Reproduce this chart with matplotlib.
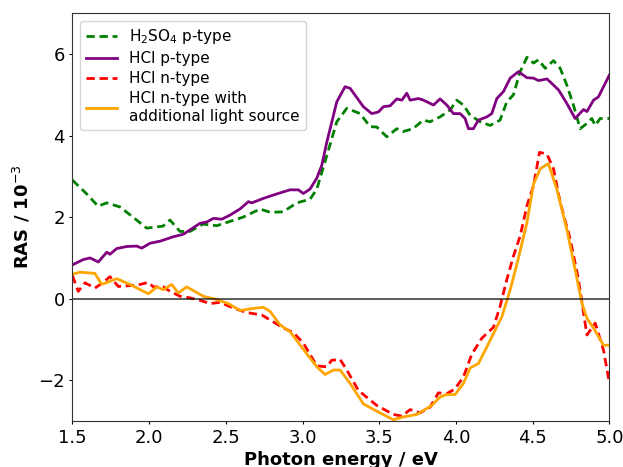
import numpy as np
import matplotlib.pyplot as plt

# RAS spectra, photon energy in eV, RAS in units of 1e-3
e_h2so4_p = [1.5, 1.593, 1.667, 1.724, 1.810, 1.895, 1.984, 2.091, 2.136, 2.201, 2.267,
             2.351, 2.441, 2.506, 2.612, 2.723, 2.788, 2.873, 2.962, 3.049, 3.093, 3.158,
             3.223, 3.288, 3.375, 3.440, 3.484, 3.549, 3.614, 3.655, 3.720, 3.786, 3.831,
             3.896, 3.962, 4.005, 4.048, 4.092, 4.157, 4.222, 4.287, 4.331, 4.374, 4.418,
             4.462, 4.505, 4.537, 4.581, 4.635, 4.679, 4.722, 4.765, 4.809, 4.853, 4.885,
             4.907, 4.939, 5.0]
ras_h2so4_p = [2.91, 2.57, 2.27, 2.35, 2.25, 2.0, 1.73, 1.78, 1.93, 1.65, 1.65,
               1.83, 1.79, 1.87, 2.0, 2.2, 2.12, 2.13, 2.35, 2.44, 2.69, 3.51,
               4.34, 4.67, 4.54, 4.22, 4.21, 3.97, 4.17, 4.10, 4.17, 4.38, 4.34,
               4.46, 4.63, 4.87, 4.75, 4.5, 4.34, 4.25, 4.38, 4.83, 5.0, 5.57,
               5.92, 5.78, 5.86, 5.65, 5.84, 5.65, 5.24, 4.75, 4.17, 4.30, 4.42,
               4.25, 4.42, 4.42]

e_hcl_p = [1.5, 1.571, 1.615, 1.669, 1.724, 1.745, 1.789, 1.854, 1.919, 1.952, 2.006,
           2.071, 2.158, 2.223, 2.267, 2.332, 2.375, 2.419, 2.473, 2.527, 2.592, 2.647,
           2.669, 2.744, 2.832, 2.918, 2.973, 3.005, 3.049, 3.093, 3.125, 3.158, 3.223,
           3.277, 3.310, 3.396, 3.451, 3.494, 3.527, 3.570, 3.614, 3.647, 3.679, 3.701,
           3.755, 3.788, 3.853, 3.896, 3.940, 3.983, 4.027, 4.059, 4.081, 4.113, 4.146,
           4.201, 4.233, 4.266, 4.309, 4.353, 4.407, 4.462, 4.505, 4.537, 4.592, 4.613,
           4.668, 4.722, 4.776, 4.831, 4.853, 4.896, 4.928, 5.0]
ras_hcl_p = [0.83, 0.96, 1.0, 0.9, 1.14, 1.09, 1.23, 1.28, 1.29, 1.24, 1.36,
             1.41, 1.52, 1.58, 1.69, 1.85, 1.88, 1.97, 1.95, 2.05, 2.2, 2.38,
             2.35, 2.46, 2.57, 2.67, 2.67, 2.58, 2.69, 2.96, 3.27, 3.84, 4.83,
             5.2, 5.16, 4.71, 4.54, 4.58, 4.71, 4.73, 4.9, 4.87, 5.04, 4.87,
             4.91, 4.87, 4.75, 4.90, 4.75, 4.54, 4.54, 4.42, 4.17, 4.17, 4.38,
             4.46, 4.54, 4.91, 5.08, 5.41, 5.57, 5.42, 5.41, 5.35, 5.39, 5.32,
             5.12, 4.79, 4.42, 4.64, 4.59, 4.87, 4.95, 5.49]

e_hcl_n = [1.5, 1.538, 1.582, 1.647, 1.701, 1.745, 1.799, 1.875, 1.941, 1.995, 2.027,
           2.093, 2.136, 2.201, 2.267, 2.332, 2.397, 2.462, 2.549, 2.636, 2.734, 2.788,
           2.875, 2.940, 3.005, 3.093, 3.158, 3.190, 3.245, 3.288, 3.364, 3.484, 3.592,
           3.647, 3.701, 3.766, 3.831, 3.885, 3.940, 3.994, 4.048, 4.103, 4.168, 4.244,
           4.287, 4.331, 4.374, 4.418, 4.462, 4.505, 4.544, 4.592, 4.635, 4.679, 4.744,
           4.798, 4.853, 4.907, 4.961, 5.0]
ras_hcl_n = [0.57, 0.18, 0.39, 0.26, 0.40, 0.54, 0.30, 0.32, 0.35, 0.40, 0.29,
             0.29, 0.18, 0.06, 0.02, -0.04, -0.12, -0.09, -0.23, -0.34, -0.40, -0.52,
             -0.72, -0.83, -1.09, -1.65, -1.67, -1.51, -1.49, -1.75, -2.25, -2.62, -2.84,
             -2.88, -2.72, -2.80, -2.66, -2.31, -2.33, -2.21, -1.92, -1.36, -0.97, -0.70,
             -0.19, 0.47, 1.04, 1.54, 2.28, 2.77, 3.59, 3.55, 3.19, 2.36, 1.46,
             0.47, -0.89, -0.60, -1.26, -2.08]

e_hcl_n_light = [1.5, 1.55, 1.647, 1.691, 1.789, 1.875, 1.995, 2.050, 2.093, 2.147, 2.190,
                 2.245, 2.353, 2.441, 2.516, 2.593, 2.658, 2.744, 2.788, 2.853, 2.918, 3.005,
                 3.093, 3.147, 3.201, 3.245, 3.310, 3.396, 3.484, 3.592, 3.657, 3.744, 3.842,
                 3.896, 3.940, 3.994, 4.048, 4.092, 4.146, 4.201, 4.299, 4.353, 4.407, 4.462,
                 4.505, 4.549, 4.602, 4.657, 4.722, 4.776, 4.820, 4.853, 4.896, 4.961, 5.0]
ras_hcl_n_light = [0.6, 0.65, 0.62, 0.35, 0.49, 0.35, 0.12, 0.29, 0.22, 0.35, 0.14,
                   0.29, 0.06, -0.02, -0.12, -0.29, -0.25, -0.21, -0.31, -0.64, -0.81, -1.24,
                   -1.67, -1.86, -1.75, -1.75, -2.08, -2.58, -2.76, -2.97, -2.90, -2.84, -2.62,
                   -2.41, -2.35, -2.35, -2.08, -1.70, -1.59, -1.18, -0.44, 0.22, 1.0, 1.87,
                   2.81, 3.19, 3.31, 2.69, 1.70, 0.72, -0.11, -0.48, -0.72, -1.14, -1.14]

fig = plt.figure(figsize=(6.23, 4.67), dpi=100)
ax = fig.add_axes([0.1162, 0.0985, 0.8621, 0.873])

dash = (3.0, 1.7)
ax.plot(e_h2so4_p, ras_h2so4_p, '--', dashes=dash, color='green', lw=2,
        label='H$_2$SO$_4$ p-type')
ax.plot(e_hcl_p, ras_hcl_p, '-', color='purple', lw=2, label='HCl p-type')
ax.plot(e_hcl_n, ras_hcl_n, '--', dashes=dash, color='red', lw=2, label='HCl n-type')
ax.plot(e_hcl_n_light, ras_hcl_n_light, '-', color='orange', lw=2,
        label='HCl n-type with\nadditional light source')
ax.axhline(0, color='k', lw=1.2, alpha=0.75)

ax.set_xlim(1.5, 5.0)
ax.set_ylim(-3, 7)
ax.set_xticks(np.arange(1.5, 5.01, 0.5))
ax.set_yticks([-2, 0, 2, 4, 6])
ax.tick_params(labelsize=13, length=2.5, pad=3)
for s in ax.spines.values():
    s.set_color('#333333')
ax.set_xlabel('Photon energy / eV', fontsize=13, fontweight='bold', labelpad=3)
ax.set_ylabel('RAS / 10$^{-3}$', fontsize=13, fontweight='bold')
ax.legend(loc='upper left', fontsize=11, labelspacing=0.33)

fig.savefig('out.png', dpi=100)
